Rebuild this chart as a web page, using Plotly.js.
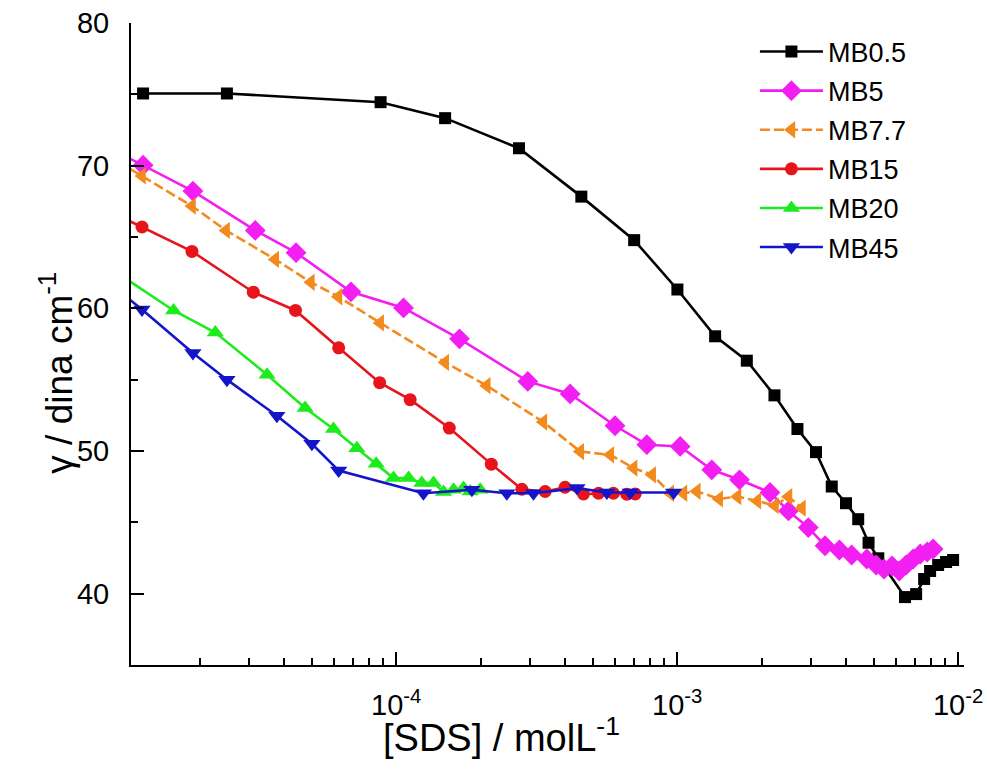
<!DOCTYPE html>
<html>
<head>
<meta charset="utf-8">
<script src="https://cdn.plot.ly/plotly-3.0.1.min.js"></script>
<style>html,body{margin:0;padding:0;background:#fff;}#chart{width:987px;height:776px;}</style>
</head>
<body>
<div id="chart"></div>
<script>
// ---- data ----
const seriesNames = ["MB0.5", "MB5", "MB7.7", "MB15", "MB20", "MB45"];

const mb05_x = [1.256e-5, 2.497e-5, 8.8e-5, 1.493e-4, 2.735e-4, 4.56e-4, 7.03e-4, 1.002e-3, 1.365e-3, 1.77e-3, 2.22e-3, 2.68e-3, 3.12e-3, 3.55e-3, 3.99e-3, 4.41e-3, 4.80e-3, 5.20e-3, 6.47e-3, 7.09e-3, 7.57e-3, 7.95e-3, 8.49e-3, 9.06e-3, 9.6e-3];
const mb05_y = [75.06, 75.06, 74.45, 73.33, 71.22, 67.83, 64.78, 61.32, 58.04, 56.33, 53.9, 51.54, 49.92, 47.51, 46.34, 45.22, 43.57, 42.48, 39.76, 39.97, 41.03, 41.59, 42.01, 42.22, 42.36];

const mb5_x = [1.025e-5, 1.256e-5, 1.89e-5, 3.15e-5, 4.40e-5, 6.90e-5, 1.062e-4, 1.68e-4, 2.94e-4, 4.16e-4, 6.01e-4, 7.80e-4, 1.025e-3, 1.328e-3, 1.667e-3, 2.14e-3, 2.49e-3, 2.93e-3, 3.36e-3, 3.78e-3, 4.18e-3, 4.73e-3, 5.11e-3, 5.45e-3, 5.82e-3, 6.17e-3, 6.53e-3, 6.92e-3, 7.33e-3, 7.76e-3, 8.15e-3];
const mb5_y = [70.92, 70.03, 68.22, 65.46, 63.90, 61.16, 60.03, 57.86, 54.88, 54.0, 51.77, 50.44, 50.32, 48.68, 47.98, 47.09, 45.8, 44.63, 43.36, 43.06, 42.71, 42.43, 42.01, 41.73, 41.94, 41.59, 42.01, 42.43, 42.78, 42.92, 43.13];

const mb77_x = [1.025e-5, 1.245e-5, 1.875e-5, 2.48e-5, 3.71e-5, 4.97e-5, 6.23e-5, 8.77e-5, 1.494e-4, 2.10e-4, 3.34e-4, 4.52e-4, 5.78e-4, 7.00e-4, 8.15e-4, 9.45e-4, 1.053e-3, 1.175e-3, 1.411e-3, 1.64e-3, 1.93e-3, 2.23e-3, 2.49e-3, 2.78e-3];
const mb77_y = [70.27, 69.28, 67.17, 65.46, 63.43, 61.83, 60.81, 58.98, 56.21, 54.58, 52.03, 49.96, 49.73, 48.8, 48.33, 47.04, 47.04, 47.17, 46.64, 46.8, 46.5, 46.17, 46.8, 45.99];

const mb15_x = [1.025e-5, 1.245e-5, 1.875e-5, 3.10e-5, 4.38e-5, 6.24e-5, 8.73e-5, 1.121e-4, 1.545e-4, 2.18e-4, 2.80e-4, 3.39e-4, 3.99e-4, 4.64e-4, 5.25e-4, 5.93e-4, 6.62e-4, 7.09e-4];
const mb15_y = [66.5, 65.7, 63.99, 61.13, 59.85, 57.23, 54.79, 53.6, 51.61, 49.08, 47.32, 47.16, 47.46, 46.99, 47.04, 47.04, 46.97, 46.99];

const mb20_x = [1.025e-5, 1.612e-5, 2.27e-5, 3.47e-5, 4.74e-5, 5.98e-5, 7.24e-5, 8.49e-5, 9.78e-5, 1.107e-4, 1.233e-4, 1.358e-4, 1.474e-4, 1.60e-4, 1.736e-4, 1.834e-4, 1.99e-4];
const mb20_y = [62.43, 59.85, 58.3, 55.35, 53.01, 51.54, 50.2, 49.1, 48.1, 48.1, 47.75, 47.75, 47.13, 47.28, 47.4, 47.16, 47.28];

const mb45_x = [1.025e-5, 1.245e-5, 1.89e-5, 2.497e-5, 3.76e-5, 5.01e-5, 6.24e-5, 1.25e-4, 1.859e-4, 2.476e-4, 3.08e-4, 4.40e-4, 5.62e-4, 6.81e-4, 9.71e-4];
const mb45_y = [61.25, 59.92, 56.87, 55.0, 52.47, 50.51, 48.63, 47.04, 47.28, 47.04, 47.04, 47.4, 47.09, 47.09, 47.09];

const xMajorTicks = [1e-4, 1e-3, 1e-2];
const xMajorLabels = ["10<sup>-4</sup>", "10<sup>-3</sup>", "10<sup>-2</sup>"];
const xMinorTicks = [2e-5, 3e-5, 4e-5, 5e-5, 6e-5, 7e-5, 8e-5, 9e-5, 2e-4, 3e-4, 4e-4, 5e-4, 6e-4, 7e-4, 8e-4, 9e-4, 2e-3, 3e-3, 4e-3, 5e-3, 6e-3, 7e-3, 8e-3, 9e-3];
const yMajorTicks = [40, 50, 60, 70, 80];
const yMinorTicks = [45, 55, 65, 75];
const xTitle = "[SDS] / molL<sup>-1</sup>";
const yTitle = "γ / dina cm<sup>-1</sup>";

// ---- styles ----
const FONT = "Liberation Sans, Arial, sans-serif";
const styles = [
  {color: "#000000", symbol: "square", size: 12, dash: "solid"},
  {color: "#F21EF2", symbol: "diamond", size: 16, dash: "solid"},
  {color: "#F28A1E", symbol: "triangle-left", size: 15, dash: "10px,4px"},
  {color: "#E8141C", symbol: "circle", size: 13, dash: "solid"},
  {color: "#1EEB1E", symbol: "triangle-up", size: 15, dash: "solid"},
  {color: "#1414C8", symbol: "triangle-down", size: 15, dash: "solid"}
];
const xs = [mb05_x, mb5_x, mb77_x, mb15_x, mb20_x, mb45_x];
const ys = [mb05_y, mb5_y, mb77_y, mb15_y, mb20_y, mb45_y];

const traces = seriesNames.map((name, i) => ({
  type: "scatter",
  mode: "lines+markers",
  name: name,
  legendgroup: "g" + i,
  x: xs[i],
  y: ys[i],
  line: {color: styles[i].color, width: 2.6, dash: styles[i].dash},
  marker: {color: styles[i].color, symbol: styles[i].symbol, size: styles[i].size, line: {width: 0}}
}));

const layout = {
  width: 987,
  height: 776,
  margin: {l: 131, r: 23, t: 23, b: 111},
  paper_bgcolor: "#ffffff",
  plot_bgcolor: "#ffffff",
  font: {family: FONT, color: "#000000", size: 28},
  showlegend: true,
  legend: {
    x: 0.749, y: 0.993, xanchor: "left", yanchor: "top",
    bgcolor: "rgba(0,0,0,0)", borderwidth: 0,
    font: {family: FONT, size: 27, color: "#000"},
    tracegroupgap: 1,
    itemwidth: 63
  },
  xaxis: {
    type: "log",
    range: [-4.944, -1.979],
    showgrid: false, zeroline: false,
    showline: true, linecolor: "#000", linewidth: 2,
    ticks: "inside", ticklen: 13, tickwidth: 2, tickcolor: "#000",
    tickmode: "array", tickvals: xMajorTicks, ticktext: xMajorLabels,
    tickfont: {family: FONT, size: 29, color: "#000"},
    ticklabelstandoff: 13,
    minor: {tickmode: "array", tickvals: xMinorTicks, ticks: "inside", ticklen: 7, tickwidth: 2, tickcolor: "#000", showgrid: false}
  },
  yaxis: {
    range: [35, 80],
    showgrid: false, zeroline: false,
    showline: true, linecolor: "#000", linewidth: 2,
    ticks: "inside", ticklen: 13, tickwidth: 2, tickcolor: "#000",
    tickmode: "array", tickvals: yMajorTicks,
    tickfont: {family: FONT, size: 29, color: "#000"},
    ticklabelstandoff: 14,
    minor: {tickmode: "array", tickvals: yMinorTicks, ticks: "inside", ticklen: 7, tickwidth: 2, tickcolor: "#000", showgrid: false}
  },
  annotations: [
    {text: xTitle, xref: "paper", yref: "paper", x: 0.445, y: -0.109, xanchor: "center", yanchor: "middle",
     showarrow: false, font: {family: FONT, size: 38, color: "#000"}},
    {text: yTitle, xref: "paper", yref: "paper", x: -0.0895, y: 0.456, xanchor: "center", yanchor: "middle",
     textangle: -90, showarrow: false, font: {family: FONT, size: 37, color: "#000"}}
  ]
};

Plotly.newPlot("chart", traces, layout, {displayModeBar: false, staticPlot: true});
</script>
</body>
</html>
